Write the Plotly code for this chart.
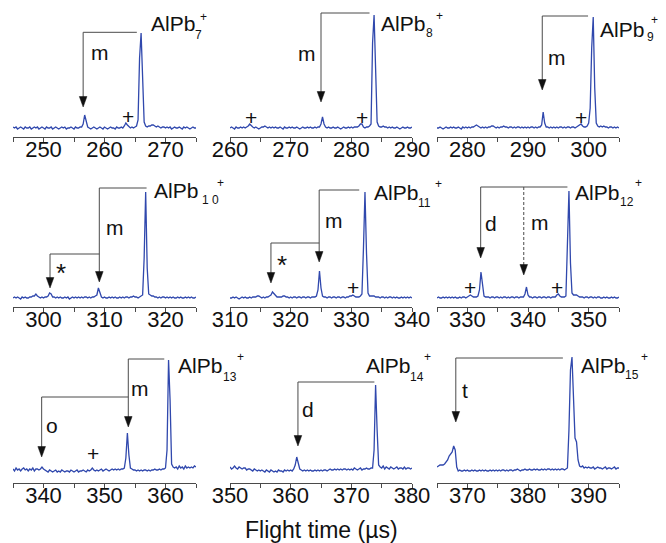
import plotly.graph_objects as go

# ---------------- data ----------------
X_START = [245, 260, 275, 295, 310, 325, 335, 350, 365]   # first sample / axis start (µs)
X_SPAN = 30
STEP = 0.25
CLUSTER_N = ["7", "8", "9", "1 0", "11", "12", "13", "14", "15"]

# intensities (x100), one sample every 0.25 µs
I1 = [1,0,1,-1,0,1,0,-1,1,0, 0,1,-1,0,1,0,1,-1,0,1, 0,-1,1,0,0,1,-1,0,1,0,
      -1,0,1,0,1,-1,0,0,1,0, -1,1,0,0,1,1,4,13,5,1, 0,-1,0,1,0,-1,0,1,0,-1,
      1,0,-1,0,1,0,0,-1,1,0, 0,1,0,2,5,3,1,0,1,0, 1,2,8,70,95,45,6,2,1,2,
      2,3,3,2,1,2,1,0,1,1, 0,1,0,1,-1,0,1,0,0,1, 0,-1,1,0,1,0,-1,0,1,0,0]
I2 = [0,1,0,-1,1,0,0,1,0,1, 0,1,2,4,2,1,0,1,0,-1, 0,1,1,2,1,0,1,0,1,0,
      1,0,0,1,0,-1,1,0,0,1, 0,1,0,0,1,0,-1,0,1,0, 0,1,0,1,0,0,1,0,1,1,
      4,11,4,1,0,1,0,0,1,0, 0,1,0,-1,0,1,0,0,1,0, 1,0,1,1,1,2,4,4,1,0,
      1,1,2,4,85,113,55,6,2,1, 1,2,1,1,0,1,0,1,0,0, 1,0,-1,0,1,0,0,1,0,0,1]
I3 = [0,0,1,0,-1,0,1,0,0,1, 0,1,0,0,1,0,-1,1,0,1, 0,1,0,1,1,2,3,2,1,0,
      1,0,1,0,1,1,2,2,1,0, 1,0,1,1,2,1,1,0,1,1, 0,1,0,1,1,0,1,0,1,0,
      1,0,1,1,0,1,0,1,1,3, 16,5,1,1,0,1,0,1,0,1, 0,1,1,0,1,0,1,1,0,1,
      1,0,1,2,3,4,2,1,1,2, 5,20,80,111,40,5,2,1,2,1, 2,1,1,0,1,1,0,1,0,1,0]
I4 = [0,1,0,1,0,-1,1,0,1,0, 0,1,1,2,2,4,2,1,0,1, 0,1,1,2,5,4,1,1,0,1,
      0,1,0,0,1,0,1,-1,0,1, 0,1,0,1,0,1,0,1,1,0, 1,0,1,1,2,3,10,5,1,0,
      1,0,0,1,0,1,0,1,0,0, 1,0,1,0,1,1,0,1,1,2, 1,1,0,1,2,3,40,106,30,4,
      3,2,2,1,1,0,1,0,1,1, 0,1,0,1,0,1,0,0,1,0, 1,0,0,1,0,1,0,1,0,0,1]
I5 = [0,0,1,0,1,0,-1,0,1,0, 1,0,0,1,0,1,1,1,2,2, 1,0,1,0,1,1,2,3,6,4,
      2,1,1,1,1,2,2,1,1,0, 1,0,1,1,0,1,1,0,1,1, 0,1,1,0,1,1,1,2,8,27,
      10,2,1,1,0,1,1,0,1,1, 0,1,1,0,1,1,0,1,1,2, 2,3,2,1,1,1,2,4,50,106,
      45,5,2,2,2,2,1,1,1,0, 1,1,0,1,0,1,1,0,1,0, 1,0,0,1,0,1,0,1,0,1,0]
I6 = [0,1,0,0,1,0,1,0,1,0, 1,0,1,0,0,1,0,1,1,0, 1,2,3,2,1,1,1,2,8,26,
      14,2,1,1,1,0,1,1,0,1, 1,0,1,0,1,1,0,1,0,1, 1,0,1,1,0,1,1,1,4,11,
      3,1,1,0,1,1,0,1,1,0, 1,1,0,1,1,0,1,1,1,3, 4,2,1,1,1,2,50,107,35,5,
      3,3,3,2,1,1,1,0,1,1, 0,1,1,0,1,0,1,1,0,0, 1,0,1,0,0,1,0,1,0,0,1]
I7 = [1,-1,2,0,1,-1,1,2,0,1, -1,1,0,2,-1,1,1,0,1,3, 1,0,-1,-2,0,-1,-2,-1,0,-2,
      -1,-2,0,-1,-2,-1,-1,-2,0,-1, -2,-1,0,-2,-1,-1,0,-1,-2,0, -1,0,2,0,-1,0,-1,0,1,-1,
      0,1,0,-1,0,1,0,1,0,1, 0,1,1,2,12,37,15,2,1,0, 0,-1,0,-1,0,-1,0,0,-1,0,
      -1,0,0,1,0,0,1,0,1,1, 2,20,110,70,6,3,2,3,1,4, 2,3,1,4,2,3,2,3,2,4,3]
I8 = [3,1,2,4,2,1,3,2,1,2, 2,0,1,1,0,-1,1,0,-1,0, -1,0,-1,-2,0,-1,-2,0,-1,-2,
      -1,-2,0,-1,-1,-2,0,-1,0,-1, 0,-1,1,5,13,5,1,0,-1,0, -1,0,-1,0,-1,-1,0,-1,0,-1,
      0,-1,0,0,-1,0,1,0,0,1, 0,1,0,1,0,1,1,0,1,0, 1,0,2,1,0,1,2,0,1,1,
      2,1,1,2,2,20,85,40,5,3, 2,4,1,3,2,1,3,2,1,2, 3,1,2,2,1,3,1,2,2,1,2]
I9 = [3,4,5,5,5,6,8,10,14,16, 18,24,20,3,-1,0,-1,-1,0,-1, 0,-1,-1,0,-1,0,-1,-1,0,-1,
      0,-1,0,-1,-1,0,-1,0,-1,0, -1,0,-1,0,0,-1,0,-1,0,0, -1,0,0,1,0,-1,0,0,1,0,
      0,1,0,0,1,0,1,0,0,1, 0,1,0,1,1,0,1,0,1,0, 1,0,1,1,0,1,2,40,100,113,
      60,32,28,10,4,3,4,2,3,2, 3,2,2,3,1,2,3,2,2,1, 2,3,1,2,2,1,2,3,1,2,2]
INTENSITIES = [I1, I2, I3, I4, I5, I6, I7, I8, I9]

# fragmentation brackets: (target x, parent x or None, top y, arrow-tip y, dashed)
BRACKETS = [
    [(256.5, 265.3, 0.957, 0.21, False)],
    [(275.0, 283.0, 1.15, 0.26, False)],
    [(292.35, 299.9, 1.12, 0.38, False)],
    [(309.15, 316.9, 1.10, 0.16, False), (301.07, 309.15, 0.44, 0.10, False)],
    [(324.7, 331.3, 1.08, 0.36, False), (316.75, 324.7, 0.55, 0.15, False)],
    [(332.2, 346.5, 1.11, 0.40, False), (339.3, None, 1.11, 0.23, True)],
    [(353.9, 359.8, 1.11, 0.43, False), (339.7, 353.9, 0.73, 0.13, False)],
    [(361.2, 373.8, 0.88, 0.24, False)],
    [(368.1, 385.75, 1.12, 0.48, False)],
]

# letters / symbols inside panels: (x, y, text)
MARKS = [
    [(259.3, 0.76, "m"), (263.9, 0.12, "+")],
    [(272.7, 0.75, "m"), (263.5, 0.11, "+"), (281.7, 0.11, "+")],
    [(294.7, 0.71, "m"), (298.7, 0.11, "+")],
    [(311.7, 0.71, "m"), (302.8, 0.25, "*")],
    [(327.1, 0.78, "m"), (318.6, 0.33, "*"), (330.2, 0.11, "+")],
    [(333.85, 0.75, "d"), (342.0, 0.76, "m"), (330.5, 0.11, "+"), (344.8, 0.11, "+")],
    [(355.8, 0.82, "m"), (341.35, 0.45, "o"), (348.1, 0.17, "+")],
    [(362.85, 0.61, "d")],
    [(369.6, 0.80, "t")],
]

# cluster label placement (page pixels): left of "AlPb", its cap centre, subscript centre, "+" centre
LABEL_PX = [
    (149, 23, 198, 35, 203, 17),
    (379, 23, 429, 33, 439, 16),
    (598, 29, 650, 37, 654, 20),
    (152, 190, 210, 200, 220, 183),
    (372, 193, 424, 203, 438, 184),
    (573, 193, 627, 202, 638, 183),
    (176, 365, 230, 377, 240, 357),
    (364, 365, 417, 377, 427, 357),
    (579, 365, 632, 375, 644, 357),
]

# ---------------- layout geometry ----------------
PAGE_W, PAGE_H = 666, 543
OFF = 8                      # default page margin around the plot div
W, H = PAGE_W - OFF, PAGE_H - OFF
COL_PX = [(13, 196), (230, 412), (437, 619)]
ROW_PX = [(10, 137), (180, 307), (356, 483)]
Y_RANGE = [(-0.09, 1.18), (-0.09, 1.18), (-0.13, 1.14)]
FONT = "Liberation Sans, Arial, Helvetica, sans-serif"
LINE_C = "#4a4a4a"
TXT_C = "#111111"
SPEC_C = "#3048ad"


def fx(px):
    return (px - OFF) / W


def fy(py):
    return 1 - (py - OFF) / H


fig = go.Figure()
layout = dict(
    width=W, height=H, margin=dict(l=0, r=0, t=0, b=0),
    paper_bgcolor="white", plot_bgcolor="white", showlegend=False,
    font=dict(family=FONT, color=TXT_C),
)
shapes, annotations = [], []

for k in range(9):
    r, c = divmod(k, 3)
    n = k + 1
    xa, ya = ("x" if n == 1 else f"x{n}"), ("y" if n == 1 else f"y{n}")
    x0p, x1p = COL_PX[c]
    ytp, ybp = ROW_PX[r]
    xs = [X_START[k] + STEP * i for i in range(len(INTENSITIES[k]))]
    ys = [v / 100 for v in INTENSITIES[k]]
    fig.add_trace(go.Scatter(x=xs, y=ys, mode="lines", xaxis=xa, yaxis=ya,
                             line=dict(color=SPEC_C, width=1.3), hoverinfo="skip"))
    layout["xaxis" if n == 1 else f"xaxis{n}"] = dict(
        domain=[fx(x0p), fx(x1p)], range=[X_START[k], X_START[k] + X_SPAN],
        anchor=ya, showline=True, linecolor=LINE_C, linewidth=1,
        showgrid=False, zeroline=False, ticks="outside", ticklen=4,
        tickcolor=LINE_C, tick0=0, dtick=10, automargin=False,
        ticklabelstandoff=-11,
        tickfont=dict(size=22, color=TXT_C, family=FONT),
        minor=dict(dtick=5, tick0=0, ticks="outside", ticklen=4, tickcolor=LINE_C),
    )
    layout["yaxis" if n == 1 else f"yaxis{n}"] = dict(
        domain=[fy(ybp), fy(ytp)], range=list(Y_RANGE[r]),
        anchor=xa, visible=False, automargin=False,
    )
    # arrowhead sizes in data units
    ppx = (x1p - x0p) / X_SPAN
    ppy = (ybp - ytp) / (Y_RANGE[r][1] - Y_RANGE[r][0])
    hw = 3.8 / ppx
    hh = 10.5 / ppy
    for (xt, xp, ytop, ytip, dashed) in BRACKETS[k]:
        if xp is not None:
            shapes.append(dict(type="line", xref=xa, yref=ya, x0=xt, x1=xp, y0=ytop, y1=ytop,
                               line=dict(color=LINE_C, width=1)))
        shapes.append(dict(type="line", xref=xa, yref=ya, x0=xt, x1=xt, y0=ytop, y1=ytip + hh * 0.8,
                           line=dict(color=LINE_C, width=1, dash="3px,2px" if dashed else "solid")))
        shapes.append(dict(type="path", xref=xa, yref=ya,
                           path=f"M {xt - hw},{ytip + hh} L {xt + hw},{ytip + hh} L {xt},{ytip} Z",
                           fillcolor="#111111", line=dict(color="#111111", width=0.5)))
    for (mx, my, mt) in MARKS[k]:
        annotations.append(dict(x=mx, y=my, xref=xa, yref=ya, text=mt, showarrow=False,
                                xanchor="center", yanchor="middle",
                                font=dict(size=26 if mt == "*" else 21, color=TXT_C, family=FONT)))
    lx, ly, sx, sy, px_, py_ = LABEL_PX[k]
    annotations.append(dict(x=fx(lx), y=fy(ly), xref="paper", yref="paper", text="AlPb",
                            showarrow=False, xanchor="left", yanchor="middle",
                            font=dict(size=21, color=TXT_C, family=FONT)))
    annotations.append(dict(x=fx(sx), y=fy(sy), xref="paper", yref="paper", text=CLUSTER_N[k],
                            showarrow=False, xanchor="center", yanchor="middle",
                            font=dict(size=12, color=TXT_C, family=FONT)))
    annotations.append(dict(x=fx(px_), y=fy(py_), xref="paper", yref="paper", text="+",
                            showarrow=False, xanchor="center", yanchor="middle",
                            font=dict(size=12, color=TXT_C, family=FONT)))

annotations.append(dict(x=fx(321), y=fy(530), xref="paper", yref="paper",
                        text="Flight time (µs)", showarrow=False, xanchor="center",
                        yanchor="middle", font=dict(size=23, color=TXT_C, family=FONT)))

layout["shapes"] = shapes
layout["annotations"] = annotations
fig.update_layout(**layout)
fig.write_html("out.html")
